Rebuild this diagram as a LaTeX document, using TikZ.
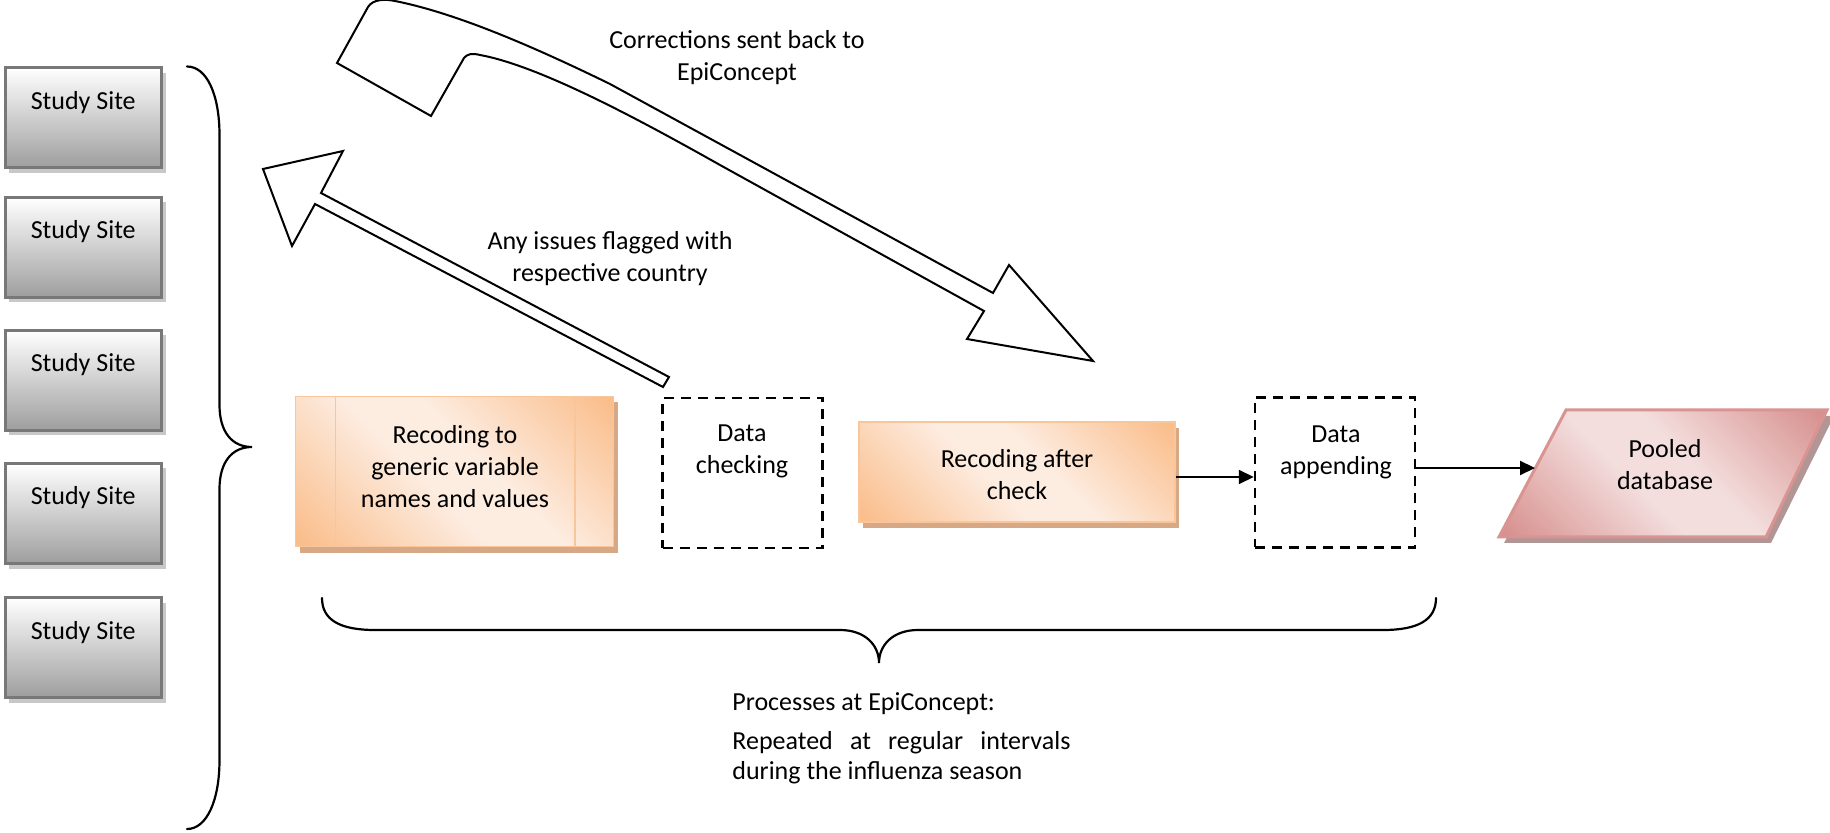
\documentclass[tikz,border=0pt]{standalone}
\usepackage{fontspec}
\setmainfont{Carlito}
\usetikzlibrary{arrows.meta,calc}

\definecolor{sitebot}{RGB}{158,158,158}
\definecolor{siteborder}{RGB}{120,120,120}
\definecolor{siteshadow}{RGB}{200,200,200}
\definecolor{ordark}{RGB}{250,190,140}
\definecolor{orlight}{RGB}{253,236,224}
\definecolor{orborder}{RGB}{249,198,155}
\definecolor{orshadow}{RGB}{214,168,134}
\definecolor{pkdark}{RGB}{215,145,143}
\definecolor{pklight}{RGB}{243,222,221}
\definecolor{pkborder}{RGB}{217,148,146}
\definecolor{pkshadow}{RGB}{178,150,150}

\pgfdeclarehorizontalshading{orangediag}{100bp}{color(0bp)=(ordark); color(16bp)=(ordark); color(44bp)=(orlight); color(56bp)=(orlight); color(84bp)=(ordark); color(100bp)=(ordark)}
\pgfdeclarehorizontalshading{pinkdiag}{100bp}{color(0bp)=(pkdark); color(16bp)=(pkdark); color(44bp)=(pklight); color(56bp)=(pklight); color(84bp)=(pkdark); color(100bp)=(pkdark)}

\tikzset{
  txt/.style={font=\fontsize{13pt}{16pt}\selectfont, align=center, inner sep=0pt},
  site/.style={draw=siteborder, line width=1.5pt, top color=white, bottom color=sitebot,
    minimum width=78.25pt, minimum height=50pt, inner sep=0pt,
    preaction={fill=siteshadow, transform canvas={shift={(2pt,-2.5pt)}}}},
  orbox/.style={draw=orborder, line width=0.6pt, shading=orangediag, shading angle=45,
    minimum width=159pt, minimum height=75pt, inner sep=0pt,
    preaction={fill=orshadow, transform canvas={shift={(2pt,-3pt)}}}},
  orline/.style={draw=orborder, line width=0.9pt},
  chk/.style={draw=black, dash pattern=on 5pt off 3.5pt, line width=1.25pt,
    minimum width=80pt, minimum height=75pt, inner sep=0pt},
  brace/.style={draw=black, line width=1.1pt, line cap=round},
  blockarrow/.style={draw=black, fill=white, line width=1pt, line join=miter},
  conn/.style={draw=black, line width=1pt, -{Triangle[length=7.5pt,width=7pt]}},
}

\begin{document}
\begin{tikzpicture}[x=0.5pt,y=-0.5pt]
\useasboundingbox (0,0) rectangle (1830,833);

% study sites
\foreach \i/\yc in {1/117.75,2/247.5,3/380.5,4/513.5,5/647.5}{
  \node[site] (s\i) at (83.25,\yc) {};
  \node[txt, anchor=base] (st\i) at ([yshift=-21.5pt]s\i.north) {Study Site};
}

% left brace
\draw[brace] (187,66.5) .. controls (207,66.5) and (219.5,95) .. (219.5,135)
  -- (219.5,405) .. controls (219.5,432) and (232,447) .. (252,447)
  .. controls (232,447) and (219.5,462) .. (219.5,489)
  -- (219.5,760) .. controls (219.5,800) and (207,829) .. (187,829);

% recoding to generic
\node[orbox] (rg) at (454.5,471.5) {};
\draw[orline] ([xshift=20.25pt]rg.north west) -- ([xshift=20.25pt]rg.south west);
\draw[orline] ([xshift=-19.75pt]rg.north east) -- ([xshift=-19.75pt]rg.south east);
\node[txt] (rgt) at (455,467) {Recoding to\\generic variable\\names and values};

% data checking
\node[chk] (dc) at (742.5,473) {};
\node[txt] (dct) at (742,451) {Data\\checking};

% recoding after check
\node[orbox, minimum width=158pt, minimum height=50pt] (rac) at (1017,472) {};
\node[txt] (ract) at (1017,475) {Recoding after\\check};

% data appending
\node[chk] (da) at (1335,472.5) {};
\node[txt] (dat) at (1336,452) {Data\\appending};

% pooled database
\fill[pkshadow] (1571,416) -- (1834,416) -- (1771,543) -- (1504,543) -- cycle;
\path[shading=pinkdiag, shading angle=45, draw=pkborder, line width=1.5pt]
  (1566,410) -- (1827,410) -- (1766,537) -- (1499,537) -- cycle;
\coordinate (pin) at (1535,468);
\node[txt] (pdt) at (1665,465) {Pooled\\database};

% connectors
\draw[conn] ([yshift=-2.5pt]rac.east) -- ([yshift=-2.5pt]rac.east -| da.west);
\draw[conn] (da.east |- pin) -- (pin);

% bottom brace
\draw[brace] (322,598) .. controls (322,620) and (340,630) .. (375,630)
  -- (840,630) .. controls (865,630) and (879,645) .. (879,663)
  .. controls (879,645) and (893,630) .. (918,630)
  -- (1383,630) .. controls (1418,630) and (1436,620) .. (1436,598);

% block arrow: issues flagged
\draw[blockarrow] (263,169) -- (343,151) -- (321,193) -- (669,377) -- (663,387)
  -- (315,204) -- (292,246) -- cycle;

% curved block arrow: corrections
\draw[blockarrow] (337,63) -- (368,7) .. controls (373,-1) and (385,-1) .. (395,1)
  .. controls (450,12) and (520,40) .. (610,84) -- (993,293) -- (1009,265)
  -- (1093,361) -- (967,339) -- (984,311) -- (720,165)
  .. controls (640,120) and (540,66) .. (480,55)
  .. controls (472,53) and (467,54) .. (464,58) -- (431,116) -- cycle;

% labels
\node[txt] (lcorr) at (737,57.5) {Corrections sent back to\\EpiConcept};
\node[txt] (liss) at (610,258.5) {Any issues flagged with\\respective country};
\node[txt, anchor=west] (lproc) at (732,703.5) {Processes at EpiConcept:};
\node[txt, align=left, anchor=west, font=\fontsize{13pt}{15pt}\selectfont] (lrep) at (732,758)
  {\makebox[169pt][s]{Repeated at regular intervals}\\during the influenza season};
\end{tikzpicture}
\end{document}
